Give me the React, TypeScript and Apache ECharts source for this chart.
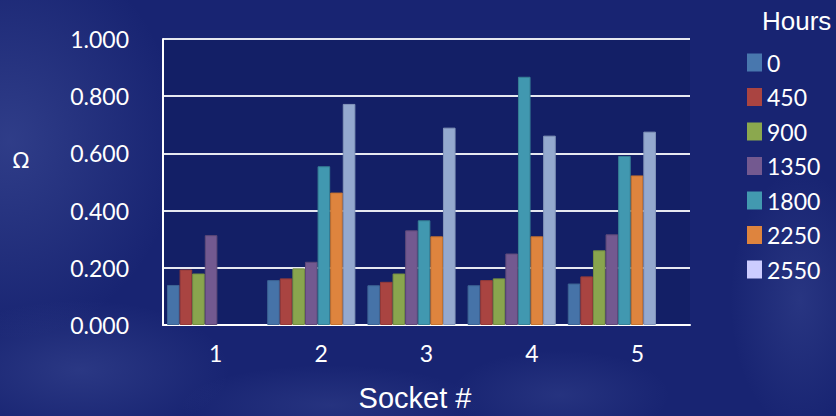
import React, { useEffect, useRef } from "react";
import * as echarts from "echarts";

// Socket resistance (Ω) measured after each number of hours
const sockets = ["1", "2", "3", "4", "5"];
const socketPositions = [1, 2, 3, 4, 5];
const hourLabels = ["0", "450", "900", "1350", "1800", "2250", "2550"];
const h0 = [0.14, 0.157, 0.139, 0.139, 0.145];
const h450 = [0.194, 0.163, 0.151, 0.157, 0.17];
const h900 = [0.18, 0.198, 0.18, 0.163, 0.261];
const h1350 = [0.314, 0.221, 0.331, 0.25, 0.317];
const h1800 = [null, 0.555, 0.366, 0.868, 0.591];
const h2250 = [null, 0.463, 0.31, 0.31, 0.523];
const h2550 = [null, 0.773, 0.69, 0.662, 0.676];
const yTicks = [0, 0.2, 0.4, 0.6, 0.8, 1.0];

const seriesValues = [h0, h450, h900, h1350, h1800, h2250, h2550];
const barColors = ["#4673a8", "#a94441", "#89a54e", "#735990", "#4198b0", "#de843e", "#94a9cf"];
const barBorders = ["#3d6494", "#933a38", "#768f42", "#5f4a78", "#367f94", "#c4722f", "#8396ba"];
const legendColors = ["#4877ae", "#aa4441", "#8ba84e", "#735990", "#4299b0", "#de843e", "#ccccff"];

// soft radial haze used for the faint clouds in the backdrop
const haze = (a: number) => ({
  type: "radial",
  x: 0.5,
  y: 0.5,
  r: 0.5,
  colorStops: [
    { offset: 0, color: `rgba(140,160,225,${a})` },
    { offset: 1, color: "rgba(140,160,225,0)" },
  ],
});

export default function App() {
  const ref = useRef<HTMLDivElement>(null);

  useEffect(() => {
    if (!ref.current) return;
    const chart = echarts.init(ref.current, null, { renderer: "svg" });

    const series = hourLabels.map((name, i) => ({
      name,
      type: "bar",
      xAxisIndex: 0,
      barGap: "0%",
      barCategoryGap: "12%",
      itemStyle: { color: barColors[i], borderColor: barBorders[i], borderWidth: 1 },
      data: socketPositions
        .map((x, k) => [x, seriesValues[i][k]])
        .filter((p) => p[1] !== null),
    }));

    const cloud = (cx: number, cy: number, rx: number, ry: number, a: number) => ({
      type: "ellipse",
      z: -10,
      silent: true,
      shape: { cx, cy, rx, ry },
      style: { fill: haze(a) },
    });

    chart.setOption({
      animation: false,
      backgroundColor: "#182472",
      grid: {
        left: 163,
        right: 146,
        top: 39,
        bottom: 91,
        show: true,
        backgroundColor: "#131f66",
        borderWidth: 0,
      },
      legend: {
        orient: "vertical",
        left: 747,
        top: 51,
        padding: 0,
        itemWidth: 15,
        itemHeight: 18,
        itemGap: 11.5,
        icon: "rect",
        textStyle: { color: "#ffffff", fontSize: 23, fontFamily: "Lato" },
        data: hourLabels.map((name, i) => ({ name, itemStyle: { color: legendColors[i], borderWidth: 0 } })),
      },
      xAxis: [
        {
          type: "value",
          min: 0.52,
          max: 5.78,
          axisLine: { show: true, lineStyle: { color: "#ffffff", width: 2 } },
          axisTick: { show: false },
          axisLabel: { show: false },
          splitLine: { show: false },
        },
        {
          type: "category",
          position: "bottom",
          data: sockets,
          axisLine: { show: false },
          axisTick: { show: false },
          axisLabel: { color: "#ffffff", fontSize: 23, fontFamily: "Lato", margin: 16 },
        },
      ],
      yAxis: {
        type: "value",
        min: yTicks[0],
        max: yTicks[yTicks.length - 1],
        interval: 0.2,
        axisLine: { show: true, lineStyle: { color: "#ffffff", width: 2 } },
        axisTick: { show: false },
        axisLabel: {
          color: "#ffffff",
          fontSize: 23,
          fontFamily: "Lato",
          margin: 34,
          formatter: (v: number) => v.toFixed(3),
        },
        splitLine: { show: true, lineStyle: { color: "#e6e8f0", width: 2 } },
      },
      graphic: [
        cloud(10, 140, 170, 200, 0.2),
        cloud(80, 370, 150, 70, 0.16),
        cloud(330, 405, 150, 40, 0.12),
        cloud(560, 395, 110, 45, 0.12),
        cloud(800, 300, 70, 130, 0.14),
        {
          type: "text",
          left: 762,
          top: 8,
          style: { text: "Hours", fill: "#ffffff", fontSize: 26, fontFamily: "Liberation Sans" },
        },
        {
          type: "text",
          x: 21,
          y: 160,
          style: {
            text: "Ω",
            fill: "#ffffff",
            fontSize: 22,
            fontFamily: "DejaVu Sans",
            align: "center",
            verticalAlign: "middle",
          },
        },
        {
          type: "text",
          x: 415,
          y: 398,
          style: {
            text: "Socket #",
            fill: "#ffffff",
            fontSize: 29,
            fontFamily: "Liberation Sans",
            align: "center",
            verticalAlign: "middle",
          },
        },
      ],
      series,
    });

    return () => chart.dispose();
  }, []);

  return (
    <div
      ref={ref}
      style={{ position: "fixed", left: 0, top: 0, width: 836, height: 416 }}
    />
  );
}
